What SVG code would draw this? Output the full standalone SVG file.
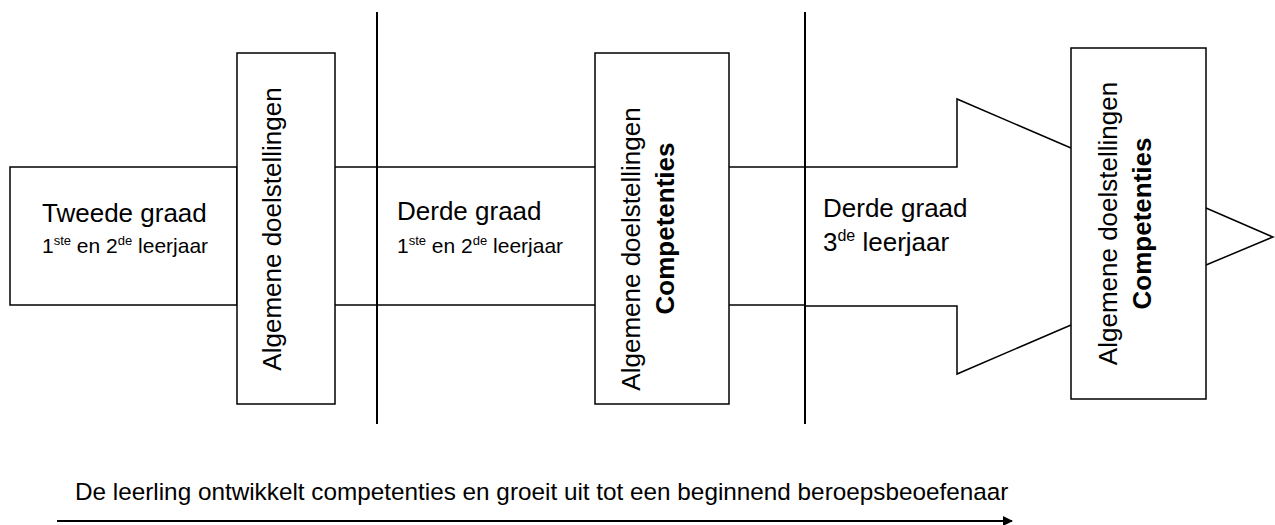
<svg xmlns="http://www.w3.org/2000/svg" width="1275" height="525" viewBox="0 0 1275 525">
<defs>
<style>
.ln{fill:none;stroke:#000;stroke-width:1.5}
.bx{fill:#fff;stroke:#000;stroke-width:1.5}
.sep{stroke:#000;stroke-width:2}
.t{font-family:"Liberation Sans",Arial,sans-serif;fill:#000}
.big{font-size:26px}
.sm{font-size:21px}
.b{font-weight:bold}
</style>
<marker id="ah" viewBox="0 0 10 10" refX="9" refY="5" markerWidth="10" markerHeight="10" markerUnits="userSpaceOnUse" orient="auto">
<path d="M0,0 L10,5 L0,10 z" fill="#000"/>
</marker>
</defs>
<rect width="1275" height="525" fill="#fff"/>
<g id="connectors">
<line class="sep" x1="377" y1="12" x2="377" y2="424"/>
<line class="sep" x1="805" y1="12" x2="805" y2="424"/>
<line class="ln" x1="335" y1="167" x2="377" y2="167"/>
<line class="ln" x1="335" y1="305" x2="377" y2="305"/>
<line class="ln" x1="377" y1="167" x2="595" y2="167"/>
<line class="ln" x1="377" y1="305" x2="595" y2="305"/>
<line class="ln" x1="729" y1="167" x2="805" y2="167"/>
<line class="ln" x1="729" y1="305" x2="805" y2="305"/>
<line x1="57" y1="521" x2="1012" y2="521" stroke="#000" stroke-width="2" marker-end="url(#ah)"/>
</g>
<g id="tweede-graad">
<rect class="bx" x="10" y="167" width="227" height="138"/>
<text class="t big" x="42" y="222">Tweede graad</text>
<text class="t sm" x="42" y="253">1<tspan font-size="13" dy="-8">ste</tspan><tspan dy="8"> en 2</tspan><tspan font-size="13" dy="-8">de</tspan><tspan dy="8"> leerjaar</tspan></text>
</g>
<g id="box1">
<rect class="bx" x="237" y="53" width="98" height="351"/>
<text class="t big" text-anchor="middle" transform="translate(281,229) rotate(-90)">Algemene doelstellingen</text>
</g>
<g id="derde-graad-1">
<text class="t big" x="397" y="220">Derde graad</text>
<text class="t sm" x="397" y="253">1<tspan font-size="13" dy="-8">ste</tspan><tspan dy="8"> en 2</tspan><tspan font-size="13" dy="-8">de</tspan><tspan dy="8"> leerjaar</tspan></text>
</g>
<g id="box2">
<rect class="bx" x="595" y="53" width="134" height="351"/>
<text class="t big" text-anchor="middle" transform="translate(640,249) rotate(-90)">Algemene doelstellingen</text>
<text class="t big b" text-anchor="middle" transform="translate(673.5,228.5) rotate(-90)">Competenties</text>
</g>
<g id="derde-graad-2">
<polyline class="ln" points="805,167 957,167 957,99 1071,148"/>
<polyline class="ln" points="805,306 957,306 957,374 1071,325"/>
<text class="t big" x="823" y="217">Derde graad</text>
<text class="t big" x="823" y="251">3<tspan font-size="16" dy="-10">de</tspan><tspan dy="10"> leerjaar</tspan></text>
</g>
<g id="box3">
<rect class="bx" x="1071" y="48" width="135" height="351"/>
<polyline class="ln" points="1206,208 1273,237 1206,265"/>
<text class="t big" text-anchor="middle" transform="translate(1116.5,223.5) rotate(-90)">Algemene doelstellingen</text>
<text class="t big b" text-anchor="middle" transform="translate(1150.5,223.5) rotate(-90)">Competenties</text>
</g>
<g id="caption">
<text class="t" font-size="24.3" x="75" y="500">De leerling ontwikkelt competenties en groeit uit tot een beginnend beroepsbeoefenaar</text>
</g>
</svg>
